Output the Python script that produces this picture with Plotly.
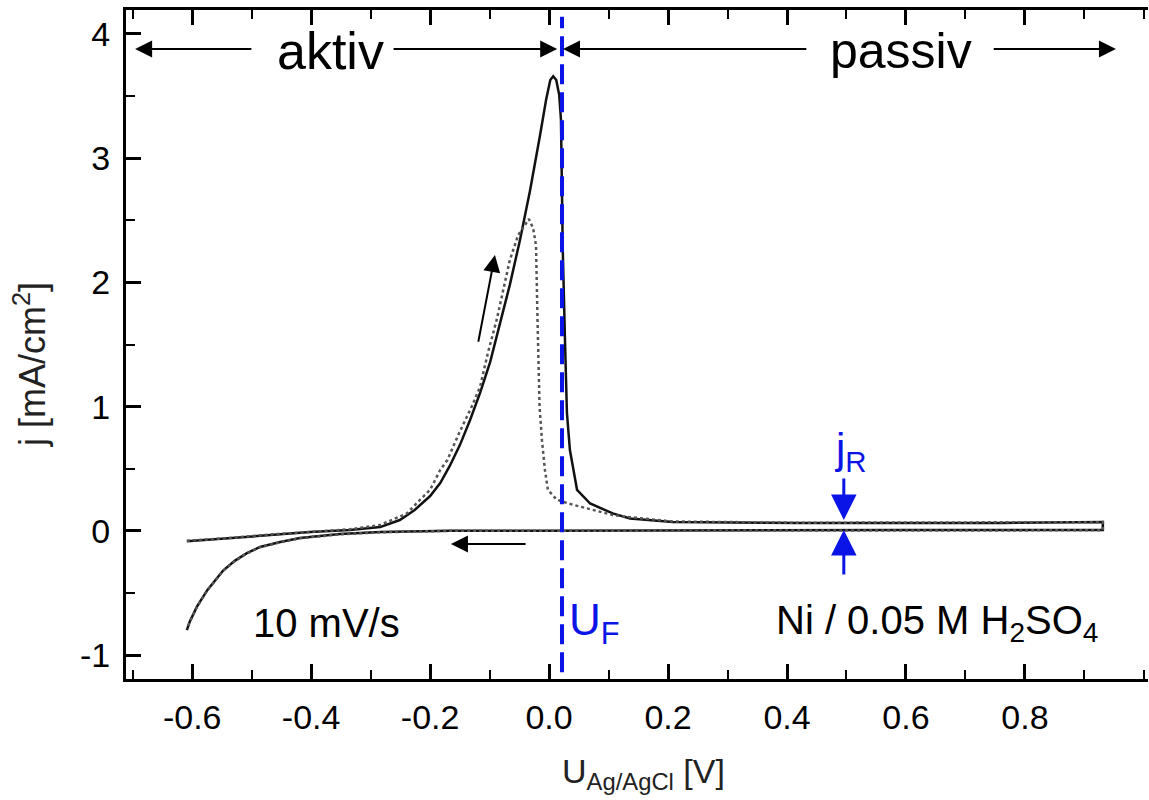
import plotly.graph_objects as go

# ---- data (U in V vs Ag/AgCl, j in mA/cm^2) ----
# cycle 1 (solid): forward scan then reverse scan
u_fwd1 = [-0.609, -0.537, -0.469, -0.402, -0.335, -0.284, -0.251, -0.226, -0.200, -0.183,
          -0.167, -0.150, -0.133, -0.116, -0.099, -0.083, -0.066, -0.049, -0.032, -0.015,
          -0.005, 0.002, 0.007, 0.012, 0.017, 0.020, 0.023, 0.027, 0.030, 0.035,
          0.047, 0.069, 0.107, 0.136, 0.208, 0.422, 0.758, 0.931]
j_fwd1 = [-0.085, -0.060, -0.034, -0.010, 0.006, 0.030, 0.087, 0.168, 0.280, 0.385,
          0.522, 0.690, 0.890, 1.110, 1.360, 1.660, 1.980, 2.340, 2.740, 3.190,
          3.470, 3.630, 3.660, 3.630, 3.510, 3.310, 2.260, 1.480, 0.950, 0.650,
          0.330, 0.220, 0.140, 0.100, 0.070, 0.063, 0.063, 0.070]
u_rev1 = [0.931, 0.590, 0.253, 0.000, -0.167, -0.284, -0.352, -0.419, -0.452, -0.486,
          -0.508, -0.528, -0.548, -0.575, -0.592, -0.604, -0.609]
j_rev1 = [0.006, 0.006, 0.000, 0.000, 0.000, -0.010, -0.026, -0.058, -0.090, -0.130,
          -0.180, -0.240, -0.320, -0.480, -0.610, -0.730, -0.800]

# cycle 2 (dotted)
u_fwd2 = [-0.609, -0.537, -0.469, -0.402, -0.335, -0.284, -0.239, -0.217, -0.200, -0.183,
          -0.171, -0.150, -0.130, -0.116, -0.103, -0.088, -0.077, -0.066, -0.052, -0.034,
          -0.027, -0.022, -0.019, -0.016, -0.012, -0.007, -0.002, 0.013, 0.040, 0.057,
          0.107, 0.136, 0.208, 0.420, 0.760, 0.931]
j_fwd2 = [-0.080, -0.058, -0.030, -0.006, 0.012, 0.047, 0.140, 0.250, 0.330, 0.490,
          0.570, 0.800, 1.000, 1.160, 1.430, 1.700, 1.940, 2.180, 2.380, 2.510,
          2.440, 2.300, 1.600, 1.000, 0.730, 0.490, 0.330, 0.250, 0.210, 0.190,
          0.127, 0.110, 0.075, 0.065, 0.065, 0.070]
u_rev2 = [0.931, 0.590, 0.253, 0.000, -0.167, -0.284, -0.352, -0.419, -0.452, -0.486,
          -0.508, -0.528, -0.548, -0.575, -0.592, -0.604, -0.609]
j_rev2 = [0.004, 0.004, 0.000, 0.000, 0.000, -0.012, -0.028, -0.060, -0.092, -0.132,
          -0.182, -0.242, -0.322, -0.482, -0.612, -0.732, -0.790]

u_flade = 0.0217  # U_F

x_range = [-0.7113, 1.0069]
y_range = [-1.193, 4.193]
x_tickvals = [-0.6, -0.4, -0.2, 0.0, 0.2, 0.4, 0.6, 0.8]
x_ticktext = ["-0.6", "-0.4", "-0.2", "0.0", "0.2", "0.4", "0.6", "0.8"]
y_tickvals = [-1, 0, 1, 2, 3, 4]
y_ticktext = ["-1", "0", "1", "2", "3", "4"]

FONT = "Liberation Sans, Arial, Helvetica, sans-serif"
BLUE = "#0a14e6"

fig = go.Figure()
fig.add_trace(go.Scatter(x=u_fwd1 + u_rev1, y=j_fwd1 + j_rev1, mode="lines",
                         line=dict(color="#111111", width=2.5), showlegend=False))
fig.add_trace(go.Scatter(x=u_fwd2 + u_rev2, y=j_fwd2 + j_rev2, mode="lines",
                         line=dict(color="#555555", width=2.5, dash="dot"), showlegend=False))

# Flade potential dashed line
fig.add_shape(type="line", x0=u_flade, x1=u_flade, y0=0.01, y1=0.99, xref="x", yref="paper",
              line=dict(color=BLUE, width=4, dash="20px,8px"))

ann = []
def arrow(x0, y0, x1, y1, color="black", width=2):
    ann.append(dict(x=x1, y=y1, ax=x0, ay=y0, xref="x", yref="y", axref="x", ayref="y",
                    showarrow=True, arrowhead=2, arrowsize=1.7, arrowwidth=width,
                    arrowcolor=color, text=""))

def label(x, y, text, size, color="black"):
    ann.append(dict(x=x, y=y, xref="x", yref="y", text=text, showarrow=False,
                    font=dict(family=FONT, size=size, color=color),
                    xanchor="center", yanchor="middle"))

arrow(-0.498, 3.879, -0.696, 3.879)
arrow(-0.264, 3.879, 0.0136, 3.879)
arrow(0.435, 3.879, 0.0234, 3.879)
arrow(0.745, 3.879, 0.953, 3.879)
arrow(-0.1195, 1.51, -0.091, 2.22)
arrow(-0.037, -0.106, -0.165, -0.106)
arrow(0.4955, 0.433, 0.4955, 0.087, color=BLUE, width=3)
arrow(0.4955, -0.364, 0.4955, 0.006, color=BLUE, width=3)

label(-0.368, 3.86, "aktiv", 52)
label(0.592, 3.86, "passiv", 50)
label(-0.375, -0.74, "10 mV/s", 40)
label(0.652, -0.74, "Ni / 0.05 M H<sub>2</sub>SO<sub>4</sub>", 40)
label(0.077, -0.74, "U<sub>F</sub>", 44, BLUE)
label(0.506, 0.64, "j<sub>R</sub>", 42, BLUE)

# axis titles
ann.append(dict(x=(30 - 126) / 1022, y=(679 - 365) / 669, xref="paper", yref="paper",
                text="j [mA/cm<sup>2</sup>]",
                textangle=-90, showarrow=False, font=dict(family=FONT, size=36, color="#222222"),
                xanchor="center", yanchor="middle"))
ann.append(dict(x=(643 - 126) / 1022, y=(679 - 773) / 669, xref="paper", yref="paper",
                text="U<sub>Ag/AgCl</sub> [V]", showarrow=False,
                font=dict(family=FONT, size=34, color="#222222"),
                xanchor="center", yanchor="middle"))

fig.update_layout(
    width=1149, height=800,
    margin=dict(l=126, r=1, t=10, b=121, autoexpand=False),
    paper_bgcolor="white", plot_bgcolor="white",
    annotations=ann,
    font=dict(family=FONT, color="black"),
)
fig.update_xaxes(range=x_range, tickvals=x_tickvals, ticktext=x_ticktext, automargin=False,
                 showgrid=False, zeroline=False, showline=True, linecolor="black", linewidth=3,
                 mirror="ticks", ticks="inside", ticklen=15, tickwidth=2.5, tickcolor="black",
                 tickfont=dict(family=FONT, size=34, color="black"), ticklabelstandoff=6,
                 minor=dict(ticks="inside", ticklen=9, tickwidth=2, tickcolor="black", dtick=0.1,
                            tick0=0, showgrid=False))
fig.update_yaxes(range=y_range, tickvals=y_tickvals, ticktext=y_ticktext, automargin=False,
                 showgrid=False, zeroline=False, showline=True, linecolor="black", linewidth=3,
                 mirror=False, ticks="inside", ticklen=15, tickwidth=2.5, tickcolor="black",
                 tickfont=dict(family=FONT, size=34, color="black"), ticklabelstandoff=6,
                 minor=dict(ticks="inside", ticklen=9, tickwidth=2, tickcolor="black", dtick=0.5,
                            tick0=0, showgrid=False))

fig.write_html("out.html", config={"displayModeBar": False},
               post_script="document.body.style.margin='0';document.body.style.overflow='hidden';")
